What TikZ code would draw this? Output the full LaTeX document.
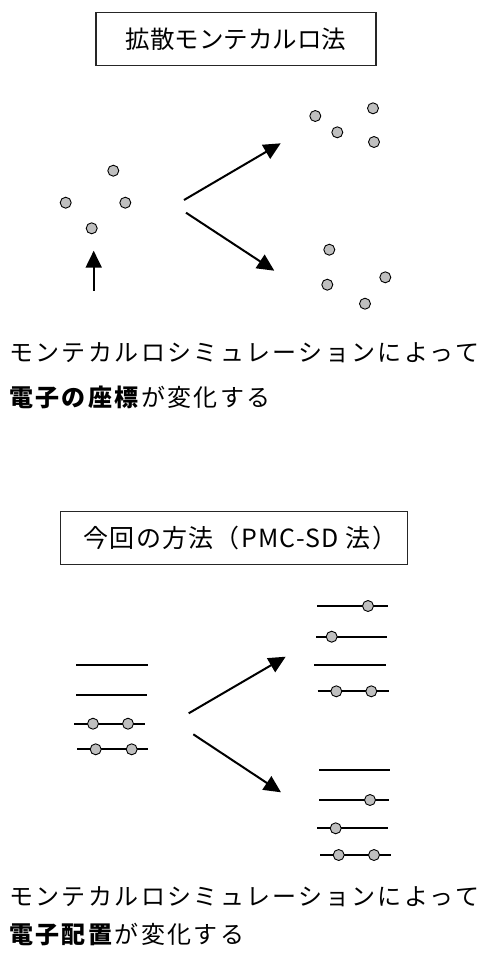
\documentclass[tikz,border=0pt]{standalone}
\usepackage{fontspec}
\setmainfont{Noto Sans CJK JP}
\usetikzlibrary{arrows.meta}
\tikzset{
  elec/.style={circle,draw=black,line width=0.9pt,fill=black!25,inner sep=0pt,minimum size=11pt},
  titlebox/.style={draw=black!85,line width=1.2pt,inner sep=0pt,minimum height=53pt},
  bigarrow/.style={line width=2pt,-{Triangle[length=17pt,width=16pt]}},
  level/.style={line width=2pt},
  caption/.style={anchor=base west,inner sep=0pt,font=\fontsize{24}{28}\selectfont\addfontfeatures{LetterSpace=10}}
}
\begin{document}
\begin{tikzpicture}[x=1pt,y=-1pt]
\useasboundingbox (0,0) rectangle (494,954);
% ---------- top: diffusion Monte Carlo ----------
\node[titlebox,minimum width=280pt,font=\fontsize{24.5}{28}\selectfont] (t1) at (236,39.2) {拡散モンテカルロ法};
\node[elec] (a1) at (113.3,170.7) {};
\node[elec] (a2) at (65.7,202.7) {};
\node[elec] (a3) at (125.3,202.7) {};
\node[elec] (a4) at (91.7,228.3) {};
\coordinate (up0) at (93.7,290.7);
\coordinate (up1) at (93.7,250.7);
\draw[bigarrow] (up0) -- (up1);
\coordinate (r0) at (184,200);
\coordinate (r1) at (280.7,143.3);
\draw[bigarrow] (r0) -- (r1);
\coordinate (s0) at (186,212.7);
\coordinate (s1) at (274.3,270.7);
\draw[bigarrow] (s0) -- (s1);
\node[elec] (b1) at (315.3,116) {};
\node[elec] (b2) at (373,108.3) {};
\node[elec] (b3) at (337.3,132.3) {};
\node[elec] (b4) at (374,142) {};
\node[elec] (c1) at (329.3,249.7) {};
\node[elec] (c2) at (385.3,277.3) {};
\node[elec] (c3) at (327.3,284.7) {};
\node[elec] (c4) at (365,303.7) {};
\node[caption] (txt1) at (9,361) {モンテカルロシミュレーションによって};
\node[caption] (txt2) at (9,406) {\textbf{電子の座標}が変化する};
% ---------- bottom: PMC-SD ----------
\node[titlebox,minimum width=347pt,font=\fontsize{25}{28}\selectfont\addfontfeatures{LetterSpace=5}] (t2) at (233.8,538.2) {\kern13pt 今回の方法（PMC-SD 法）};
% left levels
\coordinate (L1a) at (76.3,665.3); \coordinate (L1b) at (147.7,665.3);
\coordinate (L2a) at (76,695.3);   \coordinate (L2b) at (147,695.3);
\coordinate (L3a) at (74.3,723.7); \coordinate (L3b) at (145.3,723.7);
\coordinate (L4a) at (77.3,749.3); \coordinate (L4b) at (148,749.3);
\draw[level] (L1a) -- (L1b);
\draw[level] (L2a) -- (L2b);
\draw[level] (L3a) -- (L3b);
\draw[level] (L4a) -- (L4b);
\node[elec] (l31) at (93,723.7) {};
\node[elec] (l32) at (128,723.7) {};
\node[elec] (l41) at (95.7,749.3) {};
\node[elec] (l42) at (131.7,749.3) {};
% arrows
\coordinate (p0) at (188.7,713.3);
\coordinate (p1) at (285.7,656.7);
\draw[bigarrow] (p0) -- (p1);
\coordinate (q0) at (193.3,734.3);
\coordinate (q1) at (281,792.3);
\draw[bigarrow] (q0) -- (q1);
% right upper levels
\coordinate (U1a) at (317,606);     \coordinate (U1b) at (388,606);
\coordinate (U2a) at (316,636.7);   \coordinate (U2b) at (387.3,636.7);
\coordinate (U3a) at (314.3,665);   \coordinate (U3b) at (385.7,665);
\coordinate (U4a) at (317.7,691.3); \coordinate (U4b) at (388.7,691.3);
\draw[level] (U1a) -- (U1b);
\draw[level] (U2a) -- (U2b);
\draw[level] (U3a) -- (U3b);
\draw[level] (U4a) -- (U4b);
\node[elec] (u1) at (368,606) {};
\node[elec] (u2) at (331.7,636.7) {};
\node[elec] (u41) at (336.3,691.3) {};
\node[elec] (u42) at (371.3,691.3) {};
% right lower levels
\coordinate (D1a) at (319.3,770);   \coordinate (D1b) at (390,770);
\coordinate (D2a) at (319,800);     \coordinate (D2b) at (389.3,800);
\coordinate (D3a) at (317.3,828.3); \coordinate (D3b) at (388.3,828.3);
\coordinate (D4a) at (320.3,855);   \coordinate (D4b) at (390.7,855);
\draw[level] (D1a) -- (D1b);
\draw[level] (D2a) -- (D2b);
\draw[level] (D3a) -- (D3b);
\draw[level] (D4a) -- (D4b);
\node[elec] (d2) at (370,800) {};
\node[elec] (d3) at (335.7,828.3) {};
\node[elec] (d41) at (338.7,855) {};
\node[elec] (d42) at (374,855) {};
\node[caption] (txt3) at (9,905) {モンテカルロシミュレーションによって};
\node[caption] (txt4) at (9,943) {\textbf{電子配置}が変化する};
\end{tikzpicture}
\end{document}
